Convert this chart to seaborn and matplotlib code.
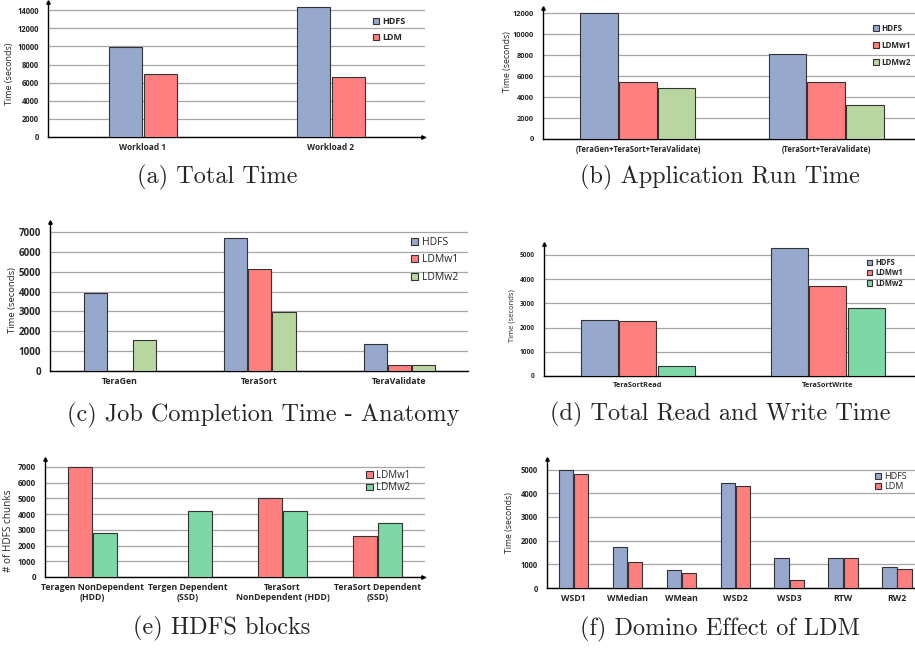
"""
HDFS vs LDM 실험 결과 6개 패널 막대그래프 재현 스크립트
"""
import pandas as pd
import numpy as np
import matplotlib.pyplot as plt
import seaborn as sns

# 색상
C_HDFS = '#96A8CC'
C_LDM = '#FF7F7F'
C_GREEN_LIGHT = '#B8D6A0'
C_GREEN_MINT = '#7DD8A5'

# (a) Total Time
a_cats = ['Workload 1', 'Workload 2']
a_hdfs = [9950, 14400]
a_ldm = [6930, 6630]

# (b) Application Run Time
b_cats = ['(TeraGen+TeraSort+TeraValidate)', '(TeraSort+TeraValidate)']
b_hdfs = [12000, 8080]
b_ldmw1 = [5430, 5430]
b_ldmw2 = [4850, 3240]

# (c) Job Completion Time - Anatomy
c_cats = ['TeraGen', 'TeraSort', 'TeraValidate']
c_hdfs = [3930, 6670, 1350]
c_ldmw1 = [0, 5130, 290]
c_ldmw2 = [1550, 2950, 290]

# (d) Total Read and Write Time
d_cats = ['TeraSortRead', 'TeraSortWrite']
d_hdfs = [2310, 5300]
d_ldmw1 = [2260, 3700]
d_ldmw2 = [410, 2800]

# (e) HDFS blocks
e_cats = ['Teragen NonDependent\n(HDD)', 'Tergen Dependent\n(SSD)',
          'TeraSort\nNonDependent (HDD)', 'TeraSort Dependent\n(SSD)']
e_ldmw1 = [6990, 0, 5050, 2630]
e_ldmw2 = [2820, 4180, 4220, 3460]

# (f) Domino Effect of LDM
f_cats = ['WSD1', 'WMedian', 'WMean', 'WSD2', 'WSD3', 'RTW', 'RW2']
f_hdfs = [4970, 1750, 740, 4430, 1280, 1280, 870]
f_ldm = [4800, 1090, 650, 4320, 330, 1250, 820]

sns.set_style('white')
plt.rcParams['font.family'] = ['Open Sans', 'DejaVu Sans']

W, H = 915, 648


def rect(l, r, b, t):
    return [l / W, 1 - b / H, (r - l) / W, (b - t) / H]


def make_df(cats, series):
    rows = []
    for name, vals in series:
        for c, v in zip(cats, vals):
            rows.append({'cat': c, 'val': v, 'series': name})
    return pd.DataFrame(rows)


def panel(fig, pos, cats, series, colors, width, xlim, ylim, ystep, ylabel,
          ylab_xy, tick_fs, xtick_fs, leg_fs, leg_xy, leg_space, leg_bold,
          ylab_fs=6.5, xarrow=True):
    ax = fig.add_axes(rect(*pos))
    df = make_df(cats, series)
    sns.barplot(data=df, x='cat', y='val', hue='series', palette=colors,
                saturation=1, width=width, gap=0.04, edgecolor='#333333',
                linewidth=0.8, errorbar=None, ax=ax, zorder=3)
    ax.set_xlim(*xlim)
    ax.set_ylim(*ylim)
    ax.set_yticks(np.arange(0, ylim[1], ystep))
    ax.yaxis.grid(True, color='#A6A6A6', linewidth=0.9, zorder=0)
    ax.set_axisbelow(True)
    for s in ['top', 'right']:
        ax.spines[s].set_visible(False)
    for s in ['left', 'bottom']:
        ax.spines[s].set_color('black')
        ax.spines[s].set_linewidth(1.0)
    ax.tick_params(axis='y', length=0, pad=6.5, labelsize=tick_fs)
    ax.tick_params(axis='x', length=0, pad=4, labelsize=xtick_fs)
    for lab in ax.get_yticklabels() + ax.get_xticklabels():
        lab.set_fontweight('bold')
    ax.set_xlabel('')
    ax.set_ylabel(ylabel, fontsize=ylab_fs)
    ax.yaxis.set_label_coords(*ylab_xy)
    # 축 화살표
    ax.plot(0, 1, marker='^', color='black', markersize=2.5,
            transform=ax.transAxes, clip_on=False)
    if xarrow:
        ax.plot(0.995, 0, marker='>', color='black', markersize=2.5,
                transform=ax.transAxes, clip_on=False)
    handles, labels = ax.get_legend_handles_labels()
    ax.legend(handles, labels, loc='upper left', bbox_to_anchor=leg_xy,
              frameon=False, borderpad=0, borderaxespad=0,
              handlelength=0.7, handleheight=0.7, handletextpad=0.35,
              labelspacing=leg_space,
              prop={'size': leg_fs, 'weight': 'bold' if leg_bold else 'normal'})
    return ax


fig = plt.figure(figsize=(9.15, 6.48), dpi=100)

panel(fig, (48, 425, 137, 2), a_cats,
      [('HDFS', a_hdfs), ('LDM', a_ldm)], [C_HDFS, C_LDM],
      0.37, (-0.505, 1.5), (0, 14900), 2000, 'Time (seconds)',
      (-0.090, 0.467), 5.5, 6, 6.5, (0.862, 0.89), 0.8, True)

panel(fig, (543, 915, 139, 8), b_cats,
      [('HDFS', b_hdfs), ('LDMw1', b_ldmw1), ('LDMw2', b_ldmw2)],
      [C_HDFS, C_LDM, C_GREEN_LIGHT],
      0.62, (-0.505, 1.473), (0, 12500), 2000, 'Time (seconds)',
      (-0.082, 0.588), 5.3, 5.5, 5.8, (0.887, 0.878), 0.97, True,
      ylab_fs=6.2, xarrow=False)

panel(fig, (50, 468, 371, 222), c_cats,
      [('HDFS', c_hdfs), ('LDMw1', c_ldmw1), ('LDMw2', c_ldmw2)],
      [C_HDFS, C_LDM, C_GREEN_LIGHT],
      0.52, (-0.5, 2.49), (0, 7500), 1000, 'Time (seconds)',
      (-0.080, 0.477), 7, 6.3, 7.5, (0.864, 0.90), 0.63, False,
      ylab_fs=6.8, xarrow=False)

panel(fig, (544, 915, 376, 244), d_cats,
      [('HDFS', d_hdfs), ('LDMw1', d_ldmw1), ('LDMw2', d_ldmw2)],
      [C_HDFS, C_LDM, C_GREEN_MINT],
      0.61, (-0.495, 1.46), (0, 5450), 1000, 'Time (seconds)',
      (-0.076, 0.455), 4.8, 5.3, 5.5, (0.871, 0.894), 0.18, True,
      ylab_fs=5.5, xarrow=False)

panel(fig, (45, 425, 577, 459), e_cats,
      [('LDMw1', e_ldmw1), ('LDMw2', e_ldmw2)],
      [C_LDM, C_GREEN_MINT],
      0.52, (-0.5, 3.5), (0, 7500), 1000, '# of HDFS chunks',
      (-0.082, 0.39), 5.8, 6.3, 7, (0.845, 0.907), 0.14, False,
      ylab_fs=7.2)

panel(fig, (547, 915, 588, 459), f_cats,
      [('HDFS', f_hdfs), ('LDM', f_ldm)], [C_HDFS, C_LDM],
      0.56, (-0.49, 6.33), (0, 5450), 1000, 'Time (seconds)',
      (-0.090, 0.51), 5.5, 6.3, 6.5, (0.891, 0.90), 0.13, False,
      ylab_fs=6.2, xarrow=False)

# 캡션
captions = [
    ('(a) Total Time', 217, 177),
    ('(b) Application Run Time', 720, 177),
    ('(c) Job Completion Time - Anatomy', 263, 415),
    ('(d) Total Read and Write Time', 720, 414),
    ('(e) HDFS blocks', 222, 628),
    ('(f) Domino Effect of LDM', 720, 629),
]
for text, x, y in captions:
    fig.text(x / W, 1 - y / H, text, ha='center', va='center',
             fontsize=17.5, family=['cmr10', 'DejaVu Serif'])

fig.savefig('out.png', dpi=100)
plt.close(fig)
